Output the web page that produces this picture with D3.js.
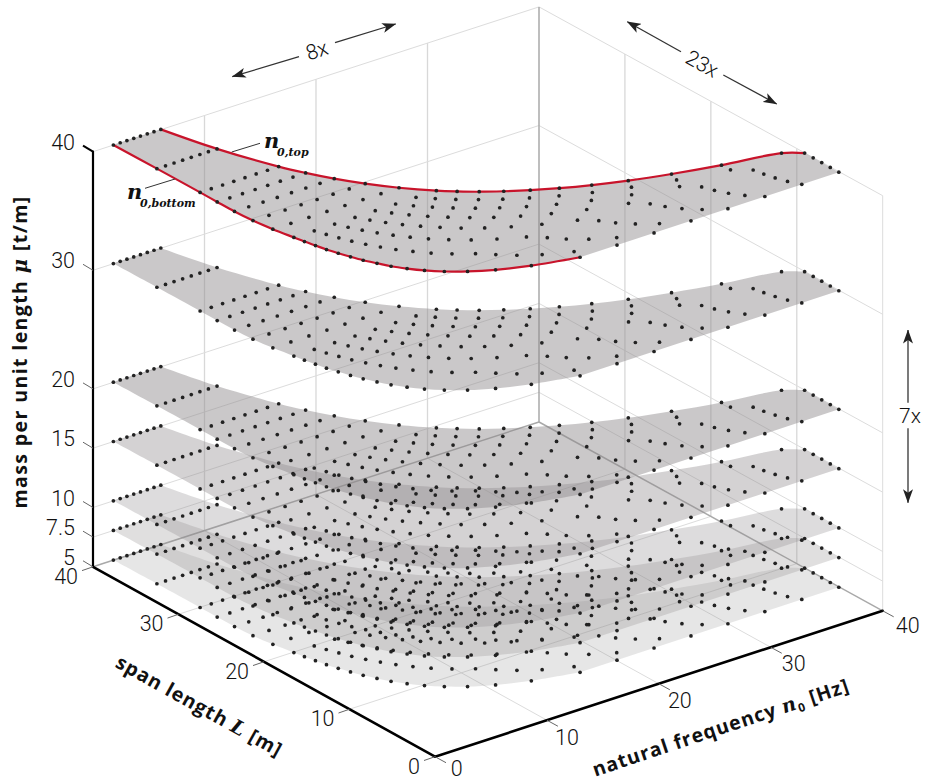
<!DOCTYPE html>
<html><head><meta charset="utf-8">
<script src="https://cdn.jsdelivr.net/npm/d3@7"></script>
<style>html,body{margin:0;padding:0;background:#fff}svg{display:block}</style>
</head><body><svg id="c" width="925" height="783"></svg>
<script>
// ---- data ----
const massTicks = [5, 7.5, 10, 15, 20, 30, 40];
const freqTicks = [0, 10, 20, 30, 40];
const spanTicks = [0, 10, 20, 30, 40];
const layerMass = [5, 7.5, 10, 15, 20, 30, 40];
const rowSpan = [40,35,30,28,26,24,22,20,19,18,17,16,15,14,13,12,11,10,9,8,7,6,5];
const rowFreq = [
 [1.82,2.43,3.03,3.64,4.24,4.85,5.45,6.06],
 [1.89,2.66,3.42,4.19,4.96,5.73,6.49,7.26],
 [1.93,2.93,3.94,4.94,5.94,6.94,7.95,8.95],
 [1.93,3.06,4.19,5.32,6.44,7.57,8.70,9.83],
 [1.95,3.22,4.50,5.77,7.04,8.32,9.59,10.86],
 [2.07,3.50,4.94,6.37,7.80,9.23,10.67,12.10],
 [2.32,3.93,5.54,7.15,8.76,10.37,11.98,13.59],
 [2.67,4.49,6.31,8.13,9.94,11.76,13.58,15.40],
 [2.85,4.80,6.75,8.70,10.64,12.59,14.54,16.49],
 [3.07,5.16,7.25,9.34,11.43,13.52,15.61,17.70],
 [3.29,5.55,7.82,10.08,12.34,14.60,16.87,19.13],
 [3.58,6.03,8.48,10.93,13.38,15.83,18.28,20.73],
 [3.91,6.58,9.24,11.91,14.57,17.24,19.90,22.57],
 [4.28,7.20,10.11,13.03,15.95,18.87,21.78,24.70],
 [4.75,7.96,11.16,14.37,17.58,20.79,23.99,27.20],
 [5.24,8.82,12.40,15.98,19.56,23.14,26.72,30.30],
 [5.91,9.92,13.94,17.95,21.96,25.97,29.99,34.00],
 [6.70,11.26,15.81,20.37,24.93,29.49,34.04,38.60],
 [7.71,12.31,16.91,21.51,26.10,30.70,35.30,39.90],
 [9.02,13.43,17.84,22.25,26.67,31.08,35.49,39.90],
 [10.76,14.92,19.09,23.25,27.41,31.57,35.74,39.90],
 [13.19,17.01,20.82,24.64,28.45,32.27,36.08,39.90],
 [16.78,20.08,23.39,26.69,29.99,33.29,36.59,39.90]
];
// ---- style ----
const layerOpacity = [0.22, 0.28, 0.30, 0.39, 0.47, 0.47, 0.47];
const freqLabelDx = [21.7, 20, 21, 23, 25], freqLabelDy = [11.5, 17, 17, 16, 14.5];
const SANS = "Roboto, sans-serif", BOLD = "'Open Sans', sans-serif", MATH = "'DejaVu Serif', serif";

// ---- scales: oblique projection of (n0, L, mu) onto the page ----
const nX = d3.scaleLinear([0,40],[0,447.7]), nY = d3.scaleLinear([0,40],[0,-147.2]);
const lX = d3.scaleLinear([0,40],[0,-342]),  lY = d3.scaleLinear([0,40],[0,-191.2]);
const zY = d3.scaleLinear([5,40],[0,-415.1]);
const ox = 435, oy = 758;
const P = (n,L,z)=>[ox+nX(n)+lX(L), oy+nY(n)+lY(L)+zY(z)];
// box is very slightly out of parallel
const B = (n,L,z)=>{const p=P(n,L,z),a=(1-n/40)*(1-L/40),b=(n/40)*(L/40);return [p[0]-1.7*b,p[1]-1.3*a+2.4*b];};

const svg = d3.select("#c");
const seg = (g,a,b,col,w)=>g.append("line").attr("x1",a[0]).attr("y1",a[1]).attr("x2",b[0]).attr("y2",b[1]).attr("stroke",col).attr("stroke-width",w);

// ---- grid ----
const grid = svg.append("g");
const GC="#dcdcdc";
[10,20,30].forEach(v=>{
  seg(grid,B(v,0,5),B(v,40,5),GC,1);
  seg(grid,B(0,v,5),B(40,v,5),GC,1);
  seg(grid,B(v,40,5),B(v,40,40),"#d8d8d8",1.3);
  seg(grid,B(40,v,5),B(40,v,40),"#d8d8d8",1.3);
});
massTicks.slice(1).forEach(z=>{
  seg(grid,B(0,40,z),B(40,40,z),GC,1);
  seg(grid,B(40,40,z),B(40,0,z),GC,1);
});
seg(grid,B(40,0,5),B(40,0,40),"#dcdcdc",1);
seg(grid,B(40,40,5),B(40,40,40),"#a9a9a9",1.5);
seg(grid,B(0,40,5),B(40,40,5),"#a9a9a9",1.5);
seg(grid,B(40,40,5),B(40,0,5),"#a9a9a9",1.5);

// ---- surfaces ----
const line = d3.line().curve(d3.curveCatmullRom.alpha(0.5));
const hiEdge = z=>rowSpan.map((L,i)=>({L,n:rowFreq[i][7]})).filter(d=>d.L>=9).map(d=>P(d.n,d.L,z));
const loEdge = z=>rowSpan.map((L,i)=>P(rowFreq[i][0],L,z));
const surfaces = svg.append("g");
layerMass.forEach((z,k)=>{
  const hi = hiEdge(z), lo = loEdge(z).reverse();
  const rest = rowSpan.filter(L=>L<9).map(L=>P(rowFreq[rowSpan.indexOf(L)][7],L,z));
  const d = line(hi) + rest.map(p=>"L"+p[0]+","+p[1]).join("") + line(lo).replace(/^M/,"L") + "Z";
  surfaces.append("path").attr("d",d).attr("fill","#8f8b8d").attr("fill-opacity",layerOpacity[k]);
});
// envelope of the top surface
const zTop = layerMass[layerMass.length-1];
[hiEdge(zTop), loEdge(zTop)].forEach(pts=>{
  svg.append("path").attr("d",line(pts)).attr("fill","none").attr("stroke","#c8142b").attr("stroke-width",2.2);
});
// ---- dots ----
const dots = svg.append("g").attr("fill","#222");
layerMass.forEach(z=>rowSpan.forEach((L,i)=>rowFreq[i].forEach(n=>{
  const p=P(n,L,z); dots.append("circle").attr("cx",p[0]).attr("cy",p[1]).attr("r",1.85);
})));

// ---- axes ----
const axes = svg.append("g").attr("stroke-linecap","round");
const zb=B(0,40,5), zt=B(0,40,40), f=B(0,0,5), r=B(40,0,5);
seg(axes,zt,zb,"#000",2.2); seg(axes,zb,f,"#000",2.6); seg(axes,f,r,"#000",2.6);
const ticks = svg.append("g"), labels = svg.append("g").attr("font-family",SANS).attr("font-weight",300).attr("font-size",21.5).attr("fill","#111");
const label=(x,y,t,anchor)=>labels.append("text").attr("x",x).attr("y",y).attr("text-anchor",anchor).attr("dominant-baseline","central").text(t);
massTicks.forEach(z=>{
  const p=B(0,40,z);
  seg(ticks,[p[0]-10,p[1]-6],p,z===40?"#000":"#666",z===40?2:1);
  label(75,p[1]-9.5,String(z),"end");
});
spanTicks.forEach(v=>{
  const p=B(0,v,5);
  seg(ticks,[p[0]-11,p[1]+3.8],p,"#666",1);
  label(p[0]-15,p[1]+9.5,String(v),"end");
});
freqTicks.forEach((v,i)=>{
  const p=B(v,0,5);
  seg(ticks,p,[p[0]+11,p[1]+6],"#666",1);
  label(p[0]+freqLabelDx[i],p[1]+freqLabelDy[i],String(v),"middle");
});

// ---- axis titles ----
function title(x,y,rot,ls,parts){
  const t=svg.append("text").attr("transform",`translate(${x},${y}) rotate(${rot})`).attr("text-anchor","middle")
    .attr("font-family",BOLD).attr("font-weight",700).attr("font-size",19.5).attr("letter-spacing",ls).attr("fill","#111");
  parts.forEach(p=>{const s=t.append("tspan").text(p.t);
    if(p.m) s.attr("font-family",MATH).attr("font-style","italic");
    if(p.sub) s.attr("font-size",12).attr("dy",4);
    if(p.up) s.attr("dy",-4);});
}
title(27,352,-90,1.4,[{t:"mass per unit length "},{t:"μ",m:1},{t:" [t/m]"}]);
title(196,712,29,1,[{t:"span length "},{t:"L",m:1},{t:" [m]"}]);
title(723,734,-18.5,1,[{t:"natural frequency "},{t:"n",m:1},{t:"0",sub:1},{t:" [Hz]",up:1}]);

// ---- annotations ----
function ann(x,y,sub){
  svg.append("text").attr("x",x).attr("y",y).attr("font-family",MATH).attr("font-weight",700).attr("font-style","italic")
   .attr("font-size",21).attr("fill","#111").text("n");
  svg.append("text").attr("x",x+13).attr("y",y+8).attr("font-family",MATH).attr("font-weight",700).attr("font-style","italic")
   .attr("font-size",11).attr("fill","#111").text(sub);
}
ann(264,148,"0,top"); ann(127,199,"0,bottom");
seg(svg,[231.7,152],[260,143.3],"#333",1);
seg(svg,[145,188.3],[175,179],"#333",1);

// ---- multiplier arrows ----
svg.append("defs").append("marker").attr("id","ah").attr("viewBox","0 0 14 10").attr("refX",13.5).attr("refY",5)
  .attr("markerWidth",14).attr("markerHeight",10).attr("markerUnits","userSpaceOnUse").attr("orient","auto-start-reverse")
  .append("path").attr("d","M0,0 L14,5 L0,10 L3.5,5 Z").attr("fill","#222");
function arrow(a,b){svg.append("line").attr("x1",a[0]).attr("y1",a[1]).attr("x2",b[0]).attr("y2",b[1])
  .attr("stroke","#333").attr("stroke-width",1.3).attr("marker-end","url(#ah)");}
arrow([299,56.7],[232.3,76.7]); arrow([335,42.7],[395.7,24]);
arrow([681,51.7],[627.3,21.7]); arrow([723.3,75],[776.7,104]);
arrow([908,402.7],[908,330]);   arrow([908,428.3],[908,502.7]);
function mult(x,y,rot,t){svg.append("text").attr("transform",`translate(${x},${y}) rotate(${rot})`).attr("text-anchor","middle")
  .attr("dominant-baseline","central").attr("font-family",SANS).attr("font-weight",300).attr("font-size",21).attr("fill","#111").text(t);}
mult(317,50.5,-18,"8x"); mult(702,64,29,"23x"); mult(910,416,0,"7x");
</script></body></html>
